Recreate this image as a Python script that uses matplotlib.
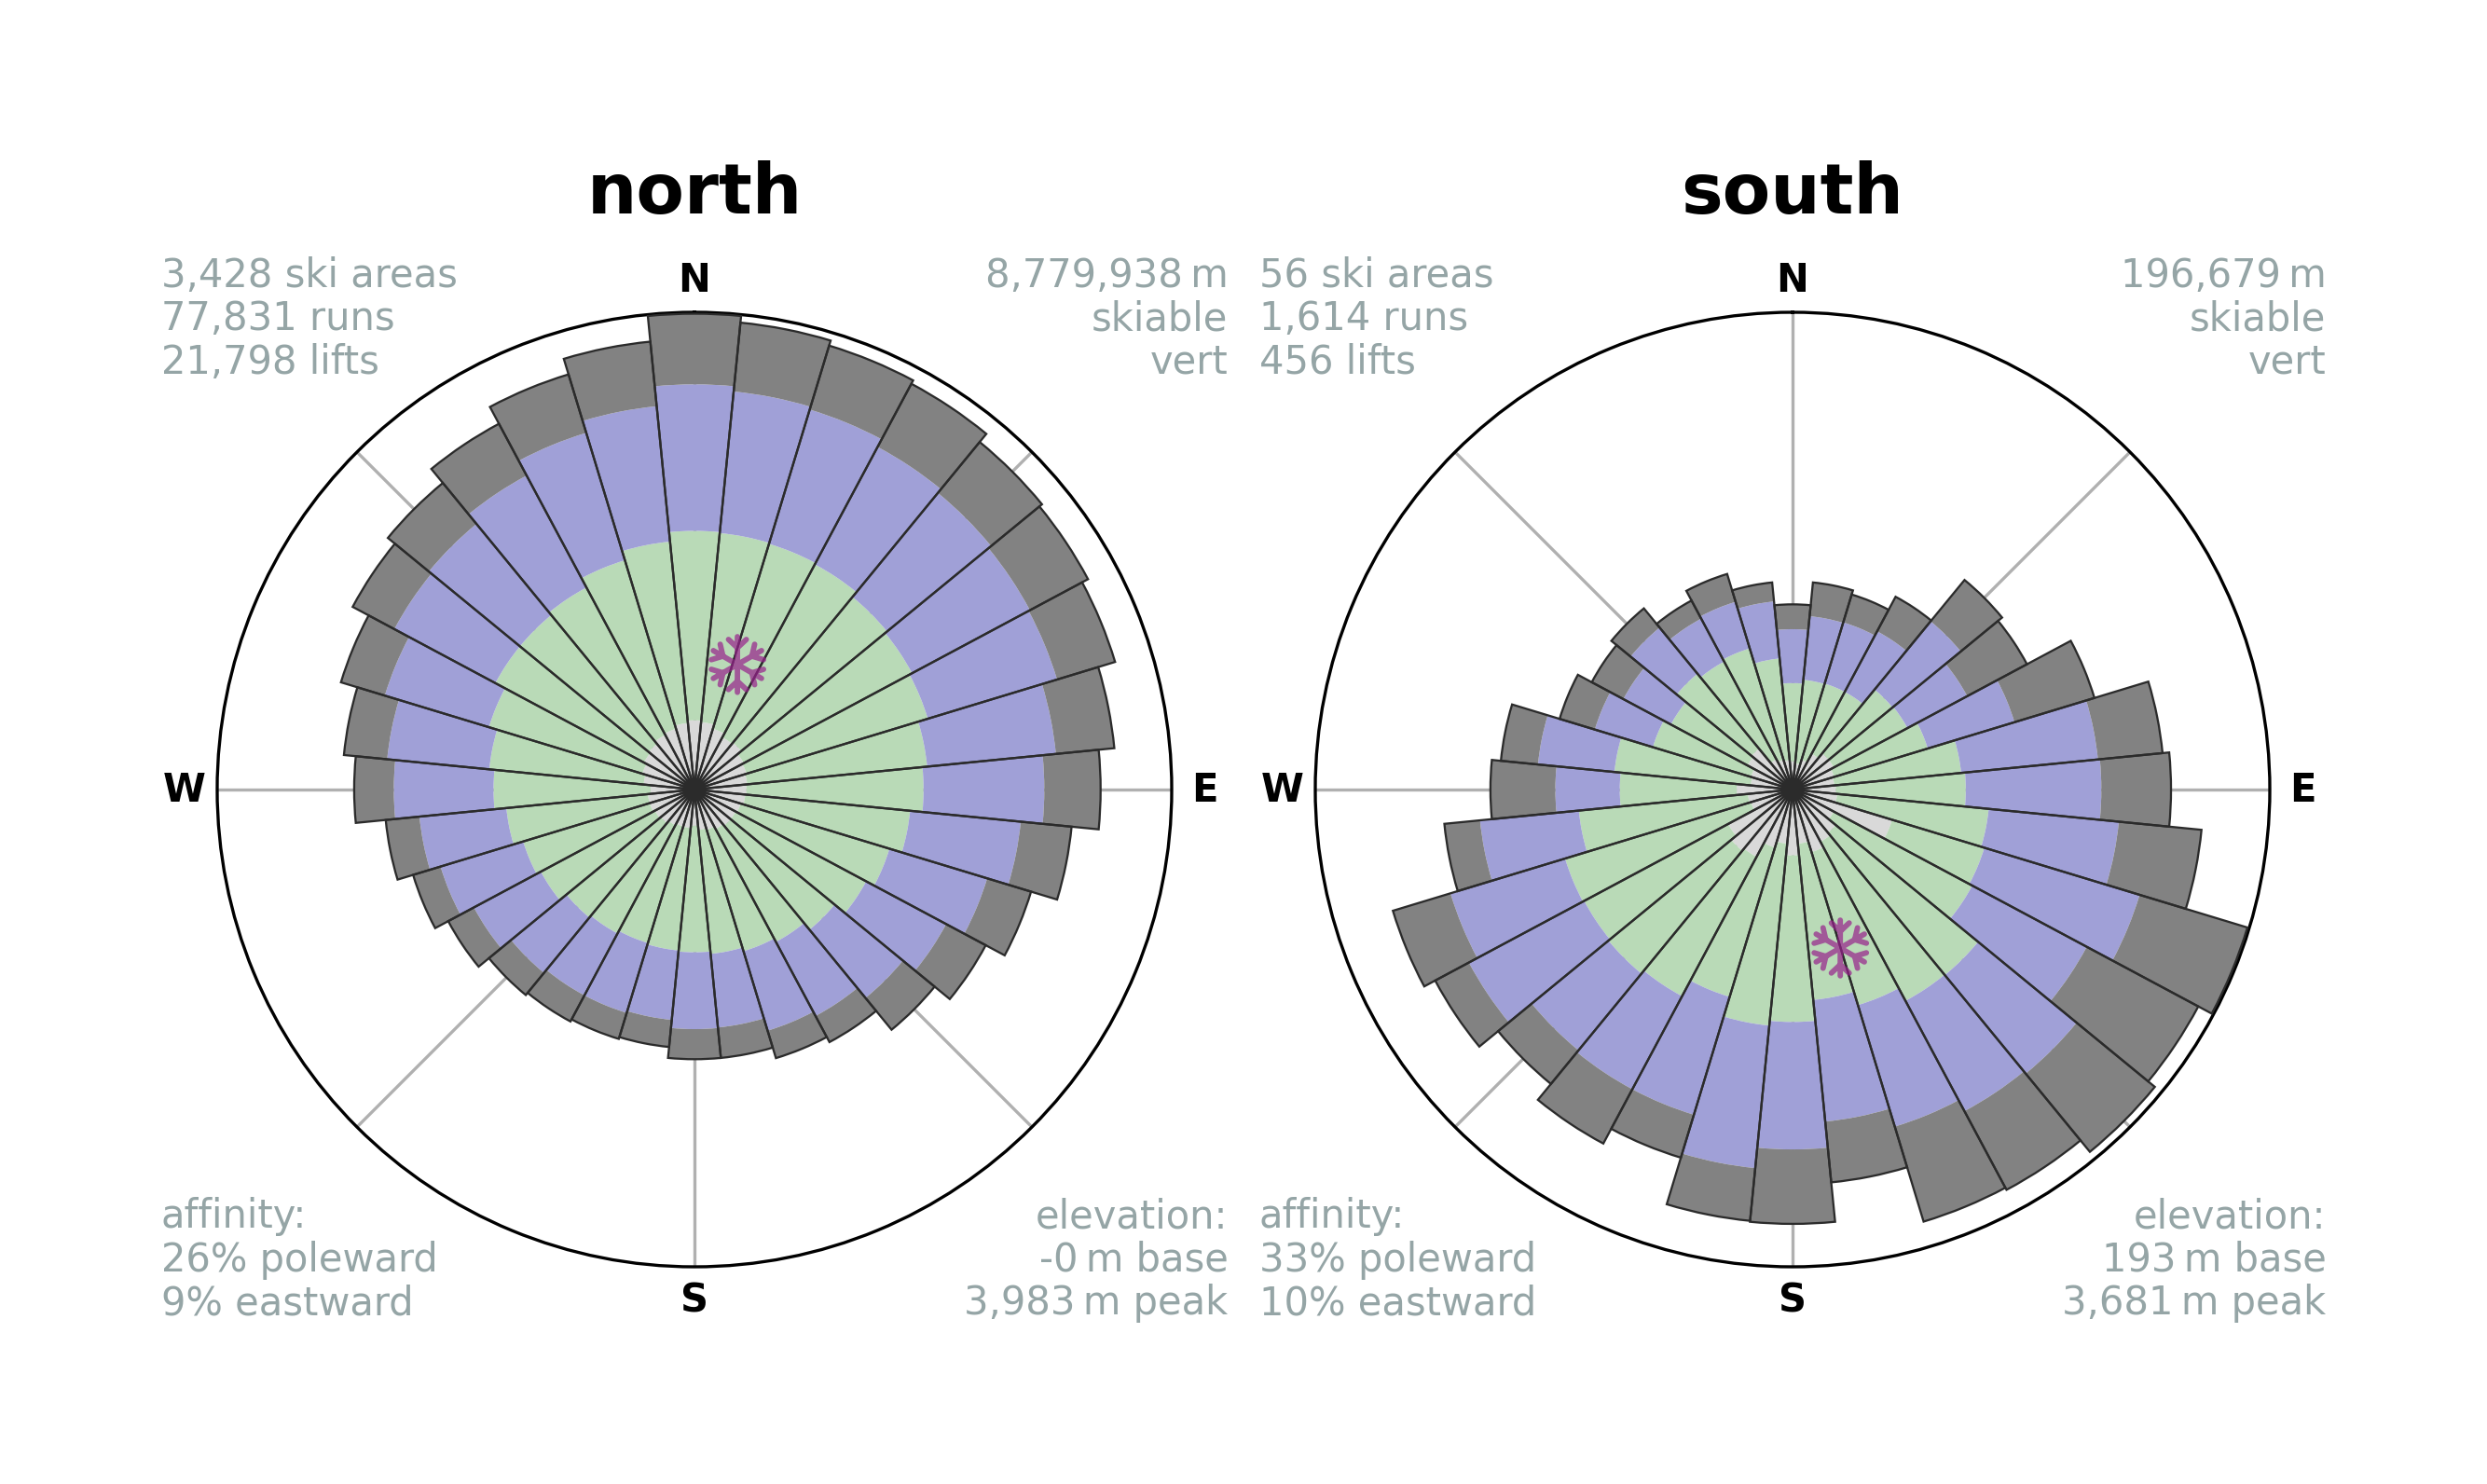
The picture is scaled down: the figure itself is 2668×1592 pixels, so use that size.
import matplotlib
matplotlib.use('Agg')
import matplotlib.pyplot as plt
from matplotlib.path import Path
import numpy as np

FIG_W, FIG_H = 2668, 1593
N_BINS = 32

C_LIGHT = '#d9d9d9'
C_GREEN = '#b9dab7'
C_BLUE  = '#a0a0d7'
C_DARK  = '#828282'
C_TEXT  = '#95a5a6'
C_EDGE  = '#2b2b2b'
C_FLAKE = '#97218c'

# cumulative radius of each band, clockwise from N, fraction of the circle
north_light = [.145, .142, .133, .124, .127, .117, .114, .111, .109, .107, .101, .098,
               .098, .094, .088, .085, .076, .081, .081, .085, .091, .094, .098, .098,
               .092, .107, .114, .120, .124, .130, .133, .140]
north_green = [.542, .540, .538, .535, .522, .517, .511, .490, .480, .454, .427, .408,
               .380, .362, .354, .346, .341, .339, .336, .342, .347, .365, .375, .396,
               .421, .432, .450, .473, .473, .480, .502, .522]
north_blue  = [.849, .838, .832, .814, .804, .797, .794, .761, .733, .687, .641, .598,
               .565, .538, .528, .501, .502, .485, .489, .489, .497, .524, .556, .579,
               .630, .647, .678, .713, .720, .746, .781, .807]
north_dark  = [.997, .983, .972, .964, .942, .935, .921, .884, .851, .794, .737, .692,
               .651, .600, .588, .565, .565, .542, .546, .551, .557, .585, .616, .650,
               .713, .738, .774, .812, .831, .869, .909, .943]

south_light = [.059, .055, .065, .085, .098, .098, .091, .088, .091, .094, .218, .098,
               .117, .124, .137, .114, .138, .114, .127, .160, .166, .153, .091, .094,
               .117, .088, .091, .107, .111, .072, .065, .062]
south_green = [.223, .231, .232, .232, .271, .273, .296, .355, .363, .413, .420, .427,
               .503, .502, .472, .443, .487, .497, .454, .491, .499, .495, .498, .450,
               .362, .375, .306, .289, .314, .304, .309, .276]
south_blue  = [.336, .365, .366, .376, .456, .415, .486, .643, .647, .687, .760, .699,
               .770, .764, .738, .699, .754, .797, .712, .712, .707, .769, .749, .658,
               .497, .536, .433, .402, .439, .406, .411, .396]
south_dark  = [.388, .436, .427, .458, .568, .557, .661, .779, .793, .861, .996, .964,
               .982, .951, .946, .827, .910, .908, .806, .841, .798, .849, .875, .733,
               .633, .614, .510, .477, .491, .449, .472, .436]

# affinity, share of the circle radius: (eastward, northward)
north_east, north_pole = 0.09, 0.262
south_east, south_pole = 0.10, -0.332

compass_ticks = [0, 45, 90, 135, 180, 225, 270, 315]
compass_names = ['N', '', 'E', '', 'S', '', 'W', '']

north_notes = ['3,428 ski areas\n77,831 runs\n21,798 lifts',
               '8,779,938\u2009m\nskiable\nvert',
               'affinity:\n26% poleward\n9% eastward',
               'elevation:\n-0\u2009m base\n3,983\u2009m peak']
south_notes = ['56 ski areas\n1,614 runs\n456 lifts',
               '196,679\u2009m\nskiable\nvert',
               'affinity:\n33% poleward\n10% eastward',
               'elevation:\n193\u2009m base\n3,681\u2009m peak']


def flake_marker():
    # six arms, one pair of side branches on each
    verts, codes = [], []
    for a in np.deg2rad(np.arange(0, 360, 60)):
        c, s = np.cos(a), np.sin(a)
        for p, q in [((0, 0), (0, 1)), ((0, 0.6), (-0.32, 0.9)), ((0, 0.6), (0.32, 0.9))]:
            verts += [(c * p[0] - s * p[1], s * p[0] + c * p[1]),
                      (c * q[0] - s * q[1], s * q[0] + c * q[1])]
            codes += [Path.MOVETO, Path.LINETO]
    return Path(verts, codes)


def rose(left_px, title, bands, east, pole, notes):
    ax = fig.add_axes([left_px / FIG_W, (FIG_H - 1360) / FIG_H, 1024 / FIG_W, 1024 / FIG_H],
                      projection='polar')
    ax.set_theta_zero_location('N')
    ax.set_theta_direction(-1)
    ax.set_ylim(0, 1)
    ax.set_yticks([])
    ax.set_xticks(np.deg2rad(compass_ticks))
    ax.set_xticklabels(compass_names, fontsize=10, fontweight='bold')
    ax.tick_params(axis='x', pad=-2)
    ax.grid(True, color='#b0b0b0', lw=0.8)
    ax.set_axisbelow(True)

    theta = np.arange(N_BINS) * 2 * np.pi / N_BINS
    width = 2 * np.pi / N_BINS
    bottom = np.zeros(N_BINS)
    for top, col in zip(bands, [C_LIGHT, C_GREEN, C_BLUE, C_DARK]):
        top = np.array(top)
        ax.bar(theta, top - bottom, width=width, bottom=bottom, color=col, lw=0, zorder=2)
        bottom = top
    ax.bar(theta, bottom, width=width, fill=False, edgecolor=C_EDGE, lw=0.55, zorder=3)

    ax.scatter([np.arctan2(east, pole)], [np.hypot(east, pole)], marker=flake_marker(), s=205,
               facecolors='none', edgecolors=C_FLAKE, alpha=0.7, lw=1.4, capstyle='round',
               zorder=4)

    ax.set_title(title, fontsize=18, fontweight='bold', pad=25.6)

    kw = dict(transform=ax.transAxes, color=C_TEXT, fontsize=10, linespacing=1.14)
    ax.text(-0.059, 1.060, notes[0], ha='left', va='top', **kw)
    ax.text(1.059, 1.060, notes[1], ha='right', va='top', **kw)
    ax.text(-0.059, -0.058, notes[2], ha='left', va='bottom', **kw)
    ax.text(1.059, -0.058, notes[3], ha='right', va='bottom', **kw)


fig = plt.figure(figsize=(FIG_W / 300, FIG_H / 300), dpi=300)
rose(233, 'north', [north_light, north_green, north_blue, north_dark], north_east, north_pole, north_notes)
rose(1411, 'south', [south_light, south_green, south_blue, south_dark], south_east, south_pole, south_notes)
fig.savefig('out.png', dpi=300)
